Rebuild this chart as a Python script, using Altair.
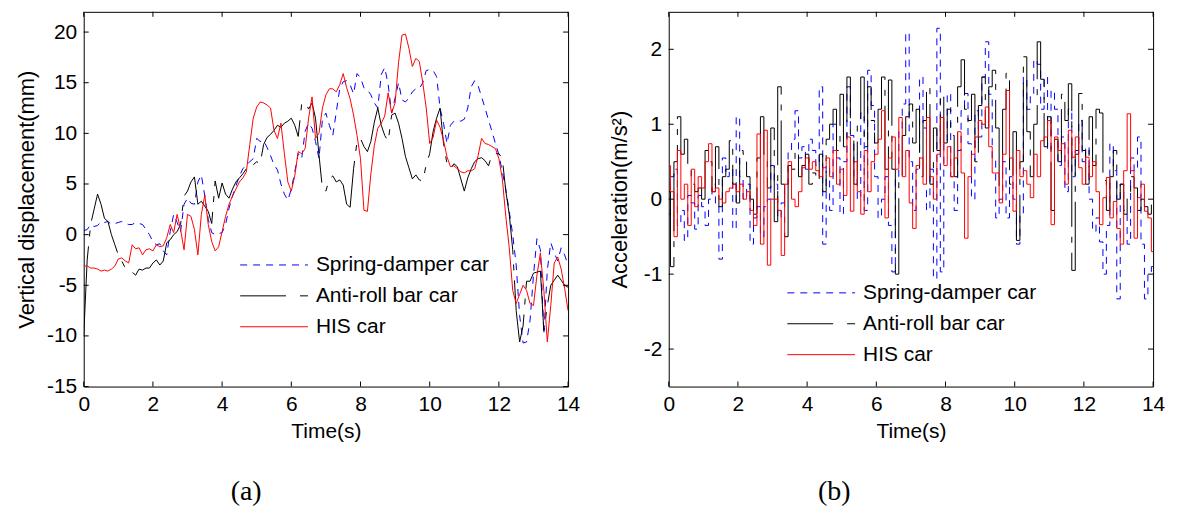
import altair as alt
import pandas as pd

# Sample times (s), one sample every 0.1 s from 0 to 14 s
time_s = [round(i * 0.1, 1) for i in range(141)]

series_names = ["Spring-damper car", "Anti-roll bar car", "HIS car"]

# (a) vertical displacement (mm)
disp_spring = [
    0.4, 0.5, 1.0, 0.8, 0.9, 1.3, 1.2, 1.3, 1.0, 1.1,
    1.2, 1.3, 1.1, 1.0, 1.0, 1.2, 1.1, 1.0, 0.5, 0.0,
    -0.7, -1.0, -0.9, -1.6, -2.0, 0.3, 2.0, 1.2, 0.3, 3.0,
    3.6, 3.1, 3.0, 5.2, 5.9, 3.8, 1.5, 0.2, 0.0, 0.1,
    0.2, 1.0, 2.6, 3.8, 4.8, 5.8, 6.5, 6.9, 7.2, 7.5,
    9.5, 9.2, 9.3, 8.6, 7.8, 6.9, 6.4, 5.0, 4.0, 3.4,
    4.5, 6.2, 8.0, 7.5, 10.2, 11.0, 10.5, 9.2, 7.5, 11.4,
    12.0, 10.8, 9.8, 12.1, 14.4, 15.1, 15.2, 14.8, 13.9, 15.9,
    15.5, 14.5, 14.3, 13.8, 13.0, 12.5, 15.8, 16.5, 14.8, 12.0,
    13.5, 15.0, 13.3, 13.1, 13.5, 14.1, 14.4, 14.4, 15.0, 16.2,
    16.3, 16.2, 15.6, 12.5, 11.0, 9.0, 10.8, 11.2, 11.3, 11.2,
    11.4, 12.5, 14.6, 15.2, 14.7, 13.6, 12.5, 11.3, 10.2, 9.0,
    7.9, 6.2, 4.5, 2.3, 0.0, -3.0, -8.0, -10.7, -10.6, -8.5,
    -4.0, -0.4, -1.5, -9.8, -3.5, -0.8, -1.8, -2.6, -1.3, -2.0,
    -3.0,
]
disp_anti_roll = [
    -10.0, -2.5, 1.0, 2.5, 4.0, 3.0, 1.6, 1.3, 0.0, -1.0,
    -2.0, -2.6, -3.3, -3.5, -3.7, -4.0, -3.4, -3.5, -3.3, -3.3,
    -2.8, -2.5, -3.0, -2.6, -0.8, -0.5, 0.0, 0.3, 1.0, 3.8,
    4.3, 5.2, 5.7, 3.0, 3.3, 2.8, 2.3, 1.1, 5.3, 3.6,
    5.1, 4.0, 3.6, 4.5, 5.2, 5.6, 6.0, 6.5, 7.0, 6.9,
    7.2, 7.0, 8.9, 9.6, 9.9, 10.3, 10.8, 10.6, 11.0, 11.2,
    11.5, 10.8, 9.7, 12.9, 13.1, 12.4, 13.0, 11.5, 7.9, 4.5,
    4.3, 5.5, 5.8, 5.2, 5.4, 4.9, 3.0, 2.7, 6.5, 9.2,
    9.5, 8.7, 8.2, 9.2, 11.1, 12.5, 10.8, 9.8, 9.2, 11.8,
    12.0, 11.0, 9.5, 7.7, 6.6, 5.5, 5.9, 5.4, 5.3, 6.9,
    8.0, 10.2, 11.5, 12.5, 9.0, 7.0, 6.5, 7.0, 6.7, 5.5,
    4.3, 5.6, 6.5, 7.2, 7.5, 7.6, 7.3, 6.8, 7.9, 8.0,
    8.0, 7.5, 4.3, 2.0, -1.5, -7.5, -10.6, -9.0, -4.6, -4.6,
    -3.8, -3.7, -3.6, -9.5, -7.0, -5.0, -4.5, -4.0, -4.5, -5.0,
    -5.2,
]
disp_his = [
    -3.1, -3.1, -3.3, -3.3, -3.4, -3.6, -3.5, -3.6, -3.4, -3.1,
    -2.4, -2.3, -2.6, -2.8, -1.0, -1.4, -1.3, -2.0, -1.5, -1.4,
    -1.6, -1.0, -1.2, -1.1, -0.3, 1.0, 0.2, 2.0, 0.5, -1.5,
    2.0, 1.8, 0.5, -2.0, 2.0, 3.9, 1.0, -0.7, -1.6, -1.2,
    0.3, 1.8, 3.0, 3.8, 4.5, 5.2, 5.6, 6.2, 8.9, 11.5,
    12.6, 13.1, 13.0, 12.8, 12.5, 10.3, 9.5, 11.0, 8.0, 5.2,
    4.3, 5.8, 8.2, 8.0, 8.5, 11.5, 13.6, 9.5, 10.0, 12.5,
    13.8, 14.4, 14.4, 14.1, 14.8, 15.9, 14.5, 13.4, 11.8, 9.8,
    7.5, 2.4, 2.3, 6.0, 8.8, 10.5, 11.0, 11.7, 14.0, 12.0,
    13.0, 17.0, 19.7, 19.8, 18.4, 16.6, 17.4, 17.1, 15.0, 12.5,
    9.0, 9.6, 11.3, 10.6, 9.3, 7.7, 6.7, 6.8, 6.5, 6.2,
    6.1, 6.3, 6.3, 6.5, 7.8, 9.5, 9.0, 8.9, 8.7, 8.5,
    7.5, 5.5, 1.8, -1.3, -5.5, -6.8, -5.9, -5.0, -5.5, -6.8,
    -7.0, -4.0, -1.8, -5.5, -10.6, -7.0, -2.8, -2.2, -3.4, -5.3,
    -7.5,
]

# (b) acceleration (m/s^2)
acc_spring = [
    -0.2, 0.3, 0.4, -0.35, -0.15, -0.55, 0.05, -0.05, -0.4, 0.05,
    -0.1, -0.35, 0.0, 0.2, -0.1, -0.8, 0.55, 0.3, 0.4, -0.4,
    1.1, 0.3, 0.0, 0.2, -0.6, -0.25, -0.1, -0.5, -0.1, 0.0,
    0.45, 0.2, -0.25, -0.05, 0.2, 0.65, 0.8, 1.18, 0.55, 0.7,
    0.4, 0.8, 0.65, 0.45, 1.5, -0.6, 0.45, -0.15, 1.0, 0.55,
    -0.2, 0.5, 1.5, 0.85, 0.3, 0.0, 1.15, -0.15, 1.72, 1.25,
    0.3, -0.25, 0.0, 0.3, -0.35, -0.97, 0.3, 0.95, 1.27, 2.22,
    0.5, -0.15, 0.4, 1.63, 0.95, -0.15, 0.4, -1.06, 2.28, -0.97,
    0.75, 1.41, 0.3, -0.15, 0.65, 1.18, 1.41, 0.74, 0.0, 1.18,
    0.83, 1.63, 2.1, 1.4, 0.55, -0.25, 0.0, 0.5, -0.25, 0.3,
    0.0, -0.6, -0.2, 1.63, 1.2, 1.4, 1.86, 1.8, 1.2, 1.63,
    0.65, 1.45, 1.2, 0.45, 0.83, 0.1, 1.2, 0.3, 0.65, 1.05,
    0.5, 0.7, 0.0, -0.43, -0.25, -0.57, -1.0, -0.35, 0.74, 0.38,
    -1.33, 0.2, -0.15, -0.6, 0.55, 0.38, 0.83, -0.6, -1.33, -0.97,
    -0.9,
]
acc_anti_roll = [
    0.1, -0.9, 0.5, 1.1, 0.6, 0.8, 0.4, 0.2, 0.1, 0.15,
    0.0, 0.65, 0.5, 0.1, 0.7, -0.1, 0.3, 0.4, 0.78, 0.2,
    -0.05, 0.65, 0.6, 0.3, 0.0, -0.2, 0.55, 1.1, 0.6, 0.15,
    0.95, -0.3, 1.5, 0.2, -0.5, 0.45, 0.4, 0.65, 0.3, 0.45,
    0.6, 0.2, 0.35, 0.25, 0.6, 0.1, 0.8, 1.0, 1.2, 0.65,
    1.4, 0.7, 1.63, 0.85, 0.2, 1.0, 1.63, 0.7, 1.5, 1.05,
    0.75, 1.2, 1.63, 0.4, 1.59, 0.4, -1.0, 0.3, 0.85, 1.1,
    1.27, 0.75, 1.2, 0.3, 1.05, 1.5, 0.2, 0.95, 0.65, 1.4,
    0.75, 1.2, 0.85, 0.3, 1.5, 1.86, 1.2, 1.05, 1.4, 0.5,
    1.25, 1.63, 0.95, 1.5, 1.72, 0.95, 0.1, 1.2, 1.68, 0.2,
    0.9, -0.55, 0.5, 1.9, 0.9, 0.3, 1.0, 2.1, 1.6, 0.7,
    1.1, -0.15, 0.8, 0.5, 1.4, 1.05, 1.54, -0.95, 0.6, 1.41,
    0.65, 0.2, 1.1, 0.45, 1.2, 1.15, 0.25, -0.15, 0.3, 0.65,
    0.0, 0.2, -0.2, 0.1, 0.3, 0.15, -0.15, 0.0, -0.1, -0.2,
    0.0,
]
acc_his = [
    0.45, 0.1, -0.5, 0.65, 0.0, 0.2, -0.35, 0.4, -0.1, 0.3,
    0.15, 0.5, 0.74, 0.1, 0.15, 0.0, -0.05, 0.1, 0.15, 0.2,
    0.1, 0.2, 0.0, 0.1, -0.15, -0.35, 0.87, -0.6, 0.92, -0.88,
    0.0, 0.0, -0.15, -0.75, 0.2, 0.5, 0.0, -0.1, 0.1, 0.42,
    0.55, 0.4, 0.5, 0.38, 0.3, 0.42, 0.55, 0.3, 0.65, 0.2,
    0.4, 0.05, 0.83, -0.16, 0.5, 0.1, -0.2, 0.65, 0.1, 0.5,
    0.6, 0.8, 1.18, -0.25, 0.55, 0.83, 0.4, 1.09, 0.3, 0.65,
    -0.05, -0.39, 0.45, 0.55, 0.2, 1.09, 0.3, 0.0, 0.6, 1.09,
    0.45, 0.7, 0.3, 0.55, 0.9, 0.35, -0.52, 0.3, 0.6, 0.83,
    1.05, 1.0, 1.23, 0.7, 0.35, 0.35, -0.05, 0.6, 1.45, 0.55,
    -0.16, 0.65, 0.3, 0.38, 0.2, 0.02, 0.6, 0.3, 0.78, 0.83,
    1.05, -0.34, 0.83, 0.65, 0.74, 0.2, 0.92, 0.56, 0.83, 0.42,
    0.2, 0.56, 0.3, 0.5, 0.1, -0.34, 0.02, 0.29, -0.25, -0.03,
    -0.39, -0.6, 0.38, 1.14, 0.38, -0.52, 0.02, 0.2, -0.16, -0.25,
    -0.7,
]

x_ticks = [0, 2, 4, 6, 8, 10, 12, 14]
disp_ticks = [-15, -10, -5, 0, 5, 10, 15, 20]
acc_ticks = [-2, -1, 0, 1, 2]

W, H = 486, 376
FONT = "Liberation Sans"
TICK = 5

# styles of the key samples
line_styles = {
    "Spring-damper car": {"color": "#0000ff", "strokeDash": [7, 6]},
    "Anti-roll bar car": {"color": "#000000", "strokeDash": [46, 14, 8, 14]},
    "HIS car": {"color": "#ff0000"},
}
# styles of the traces (the dash-dot trace uses a longer period along the path)
trace_styles = {
    "Spring-damper car": {"color": "#0000ff", "strokeDash": [7, 6]},
    "Anti-roll bar car": {"color": "#000000", "strokeDash": [90, 10, 6, 10]},
    "HIS car": {"color": "#ff0000"},
}


def panel(values, y_domain, y_ticks, y_title, title_pad, legend_x, legend_y,
          tag_x, tag, interp):
    x_scale = alt.Scale(domain=[0, 14], nice=False, zero=False)
    y_scale = alt.Scale(domain=y_domain, nice=False, zero=False)
    x_enc = alt.X("Time:Q", scale=x_scale,
                  axis=alt.Axis(values=x_ticks, title="Time(s)", titlePadding=6,
                                labelExpr="'' + datum.value"))
    y_enc = alt.Y("Value:Q", scale=y_scale,
                  axis=alt.Axis(values=y_ticks, title=y_title, titlePadding=title_pad,
                                titleFontSize=22, labelExpr="'' + datum.value"))

    layers = []
    for name, vals in zip(series_names, values):
        df = pd.DataFrame({"Time": time_s, "Value": vals})
        layers.append(
            alt.Chart(df).mark_line(strokeWidth=1, interpolate=interp, clip=True,
                                    **trace_styles[name]).encode(x=x_enc, y=y_enc)
        )

    # inward tick marks on all four sides of the frame
    xt = pd.DataFrame({"Time": x_ticks})
    yt = pd.DataFrame({"Value": y_ticks})
    rule = dict(color="black", strokeWidth=1)
    layers += [
        alt.Chart(xt).mark_rule(**rule).encode(x=x_enc, y=alt.value(H), y2=alt.value(H - TICK)),
        alt.Chart(xt).mark_rule(**rule).encode(x=x_enc, y=alt.value(0), y2=alt.value(TICK)),
        alt.Chart(yt).mark_rule(**rule).encode(y=y_enc, x=alt.value(0), x2=alt.value(TICK)),
        alt.Chart(yt).mark_rule(**rule).encode(y=y_enc, x=alt.value(W - TICK), x2=alt.value(W)),
    ]

    # legend drawn inside the axes
    one = pd.DataFrame({"k": [0]})
    for i, name in enumerate(series_names):
        yy = legend_y + i * 31
        layers.append(
            alt.Chart(one).mark_rule(strokeWidth=1, **line_styles[name]).encode(
                x=alt.value(legend_x), x2=alt.value(legend_x + 68), y=alt.value(yy))
        )
        layers.append(
            alt.Chart(one).mark_text(text=name, align="left", baseline="middle", font=FONT,
                                     fontSize=21, color="black").encode(
                x=alt.value(legend_x + 76), y=alt.value(yy))
        )

    layers.append(
        alt.Chart(one).mark_text(text=tag, align="center", baseline="alphabetic",
                                 font="Liberation Serif", fontSize=28, color="black").encode(
            x=alt.value(tag_x), y=alt.value(490))
    )
    return alt.layer(*layers).properties(width=W, height=H)


left = panel([disp_spring, disp_anti_roll, disp_his], [-15, 22], disp_ticks,
             "Vertical displacement(mm)", 8, 157, 254, 163, "(a)", "linear")
right = panel([acc_spring, acc_anti_roll, acc_his], [-2.5, 2.5], acc_ticks,
              "Acceleration(m/s²)", 12, 119, 282, 166, "(b)", "step")

chart = (
    alt.hconcat(left, right, spacing=101, bounds="flush")
    .properties(padding={"left": 15, "top": 10, "right": 15, "bottom": 0}, background="white")
    .configure_view(stroke="black", strokeWidth=1)
    .configure_axis(labelFont=FONT, labelFontSize=21, labelColor="black",
                    titleFont=FONT, titleFontSize=21, titleColor="black",
                    titleFontWeight="normal", ticks=False, tickSize=0, domain=False,
                    grid=False, labelPadding=7, labelFlush=False, labelOverlap=False)
)

chart.save("out.html", embed_options={"renderer": "svg", "actions": False})
